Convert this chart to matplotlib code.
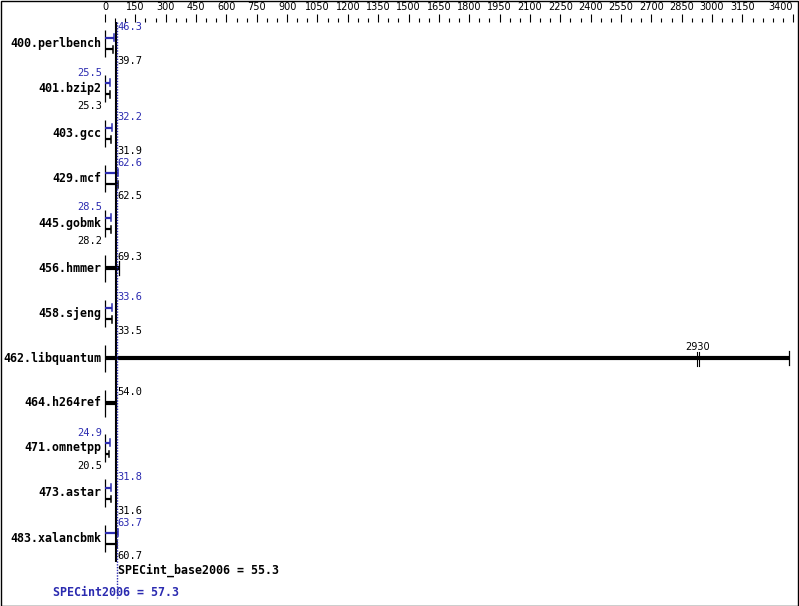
import matplotlib
matplotlib.use("Agg")
import matplotlib.pyplot as plt
from matplotlib.patches import Rectangle

# --- data -------------------------------------------------------------------
benchmarks = ["400.perlbench", "401.bzip2", "403.gcc", "429.mcf", "445.gobmk",
              "456.hmmer", "458.sjeng", "462.libquantum", "464.h264ref",
              "471.omnetpp", "473.astar", "483.xalancbmk"]
base = [39.7, 25.3, 31.9, 62.5, 28.2, 69.3, 33.5, 2930, 54.0, 20.5, 31.6, 60.7]
peak = [46.3, 25.5, 32.2, 62.6, 28.5, None, 33.6, None, None, 24.9, 31.8, 63.7]
base_mean = 55.3
peak_mean = 57.3
major_ticks = list(range(0, 3151, 150)) + [3400]
minor_ticks = [v for v in range(0, 3401, 50) if v not in major_ticks]
left_labels = {"401.bzip2", "445.gobmk", "471.omnetpp"}
overflow_at = 1000           # bars beyond this get a break mark
overflow_end = 3380          # ... and run off to the right edge

BLUE = "#2b2bb0"
W, H = 799, 606
X0, X1 = 105, 793            # pixel of value 0 and of 3400
S = (X1 - X0) / 3400.0       # pixels per unit
ROW0, ROWH, AX_TOP = 43, 45, 22

MONO = "DejaVu Sans Mono"


def px(p):                   # horizontal pixel offset -> data units
    return p / S


def py(p):                   # vertical pixel offset -> rows
    return p / ROWH


fig = plt.figure(figsize=(W / 100, H / 100), dpi=100)
ax = fig.add_axes([0, 0, 1, (H - AX_TOP) / H])
ax.set_xlim(-X0 / S, (W - X0) / S)
ax.set_ylim((H - ROW0) / ROWH, (AX_TOP - ROW0) / ROWH)
for sp in ax.spines.values():
    sp.set_visible(False)
ax.set_yticks([])
ax.xaxis.tick_top()
ax.set_xticks(major_ticks)
ax.set_xticks(minor_ticks, minor=True)
ax.set_xticklabels([str(v) for v in major_ticks], fontsize=7, family="DejaVu Sans")
ax.get_xticklabels()[-1].set_ha("right")
ax.tick_params(axis="x", which="major", direction="out", length=6.0, width=0.8,
               pad=1.4, top=True, bottom=False)
ax.tick_params(axis="x", which="minor", direction="out", length=3.0, width=0.8,
               top=True, bottom=False)

for i, name in enumerate(benchmarks):
    b, p = base[i], peak[i]
    # bracket at zero
    ax.plot([0, 0], [i - py(13.5), i + py(13.5)], color="black", lw=0.9,
            solid_capstyle="butt")
    ax.text(-px(4), i, name, ha="right", va="center", family=MONO,
            fontweight="bold", fontsize=8.4)
    if p is None:
        end = overflow_end if b > overflow_at else b
        ax.plot([0, end], [i, i], color="black", lw=3, solid_capstyle="butt")
        ax.plot([end, end], [i - py(7), i + py(7)], color="black", lw=0.9)
        if b > overflow_at:
            for dx in (-1.3, 1.3):
                ax.plot([b + px(dx), b + px(dx)], [i - py(6), i + py(8)],
                        color="black", lw=0.8)
            ax.text(b, i - py(11), f"{b:g}", ha="center", va="center",
                    fontsize=7, family="DejaVu Sans")
        else:
            ax.text(base_mean + px(1.5), i - py(11), f"{b:.1f}", ha="left",
                    va="center", fontsize=7.5, family=MONO)
        continue
    yp, yb = i - py(5.5), i + py(6)
    ax.plot([0, p], [yp, yp], color=BLUE, lw=1.6, solid_capstyle="butt")
    ax.plot([p, p], [yp - py(3.5), yp + py(3.5)], color=BLUE, lw=1.1)
    ax.plot([0, b], [yb, yb], color="black", lw=1.6, solid_capstyle="butt")
    ax.plot([b, b], [yb - py(3.5), yb + py(3.5)], color="black", lw=1.1)
    if name in left_labels:
        lx, ha = -px(3), "right"
    else:
        lx, ha = base_mean + px(1.5), "left"
    ax.text(lx, i - py(15.5), f"{p:.1f}", ha=ha, va="center", color=BLUE,
            fontsize=7.5, family=MONO)
    ax.text(lx, i + py(18), f"{b:.1f}", ha=ha, va="center", color="black",
            fontsize=7.5, family=MONO)

# geometric-mean lines
ax.plot([base_mean, base_mean], [py(AX_TOP - ROW0), py(562 - ROW0)],
        color="black", lw=1.5, solid_capstyle="butt")
ax.plot([peak_mean, peak_mean], [py(AX_TOP - ROW0), py(598 - ROW0)],
        color=BLUE, lw=1.0, ls=(0, (1, 1)))
ax.text(base_mean + px(1.5), py(570 - ROW0), f"SPECint_base2006 = {base_mean}",
        ha="left", va="center", family=MONO, fontweight="bold", fontsize=8.4)
ax.text(px(53 - X0), py(592 - ROW0), f"SPECint2006 = {peak_mean}",
        ha="left", va="center", family=MONO, fontweight="bold", fontsize=8.4,
        color=BLUE)

# outer frame
fig.patches.append(Rectangle((0.5 / W, 0.5 / H), (W - 1.5) / W, (H - 1.5) / H,
                             transform=fig.transFigure, fill=False,
                             edgecolor="black", lw=1.0))

fig.savefig("out.png", dpi=100)
